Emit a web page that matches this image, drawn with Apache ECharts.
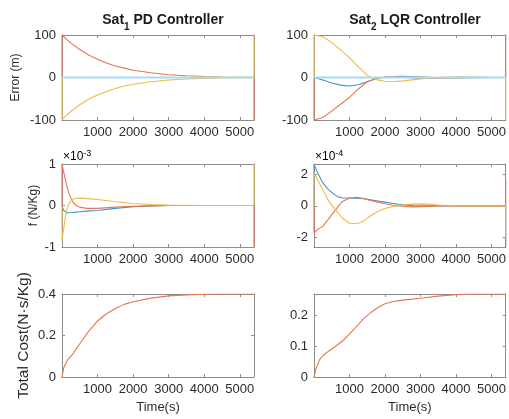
<!DOCTYPE html>
<html>
<head>
<meta charset="utf-8">
<script src="https://cdn.jsdelivr.net/npm/echarts@6/dist/echarts.min.js"></script>
<style>html,body{margin:0;padding:0;background:#fff;}#c{width:509px;height:419px;}</style>
</head>
<body>
<div id="c"></div>
<script>
// ---------- Data ----------
const xTicks = [1000, 2000, 3000, 4000, 5000];
const tMax = 5400;

// Sat1 PD - Error (m)
const pdErrTime   = [0, 0, 100, 250, 500, 750, 1000, 1250, 1500, 1750, 2000, 2500, 3000, 3500, 4000, 4500, 5000, 5400, 5400];
const pdErrOrange = [0, 100, 92, 81, 66, 53, 43, 34, 27, 22, 17, 11, 6.5, 4, 2.3, 1.3, 0.7, 0.4, -100];
const pdErrYellow = [0, -100, -91, -80, -64, -51, -41, -33, -26, -20, -16, -10, -6, -3.5, -2, -1.2, -0.6, -0.3, 100];
const pdErrZeroTime = [0, 5400];
const pdErrZero     = [0, 0];

// Sat2 LQR - Error (m)
const lqrErrTime   = [0, 0, 250, 500, 750, 1000, 1250, 1500, 1750, 2000, 2250, 2500, 2750, 3000, 3250, 3500, 4000, 4500, 5000, 5400, 5400];
const lqrErrYellow = [0, 100, 96, 82, 65, 46, 25, 5, -5, -9, -9.5, -8, -5.5, -3.5, -1.5, 0, 1.5, 1, 0.3, 0, -100];
const lqrErrOrange = [0, -100, -94, -79, -63, -47, -27, -10, -2, 1, 1.5, 1, -0.5, -2, -2, -1.5, -0.5, 0, 0, 0, 100];
const lqrErrBlue   = [0, 0, -6, -13, -18, -20, -17, -10, -3, 1, 2.5, 3, 2.5, 1.5, 0.5, -0.5, -1, -0.3, 0, 0, 0];
const lqrErrZeroTime = [0, 5400];
const lqrErrZero     = [0, 0];

// Sat1 PD - f (N/Kg), x1e-3
const pdFTime   = [0, 0, 50, 100, 150, 200, 300, 400, 500, 700, 1000, 1500, 2000, 2500, 3000, 4000, 5400, 5400];
const pdFBlue   = [0, 0, -0.12, -0.16, -0.175, -0.18, -0.17, -0.16, -0.15, -0.135, -0.12, -0.07, -0.03, -0.01, 0, 0, 0, 0];
const pdFOrange = [0, 1, 0.8, 0.6, 0.42, 0.28, 0.09, 0.0, -0.04, -0.07, -0.07, -0.04, -0.02, -0.01, 0, 0, 0, -1];
const pdFYellow = [0, -0.85, -0.55, -0.25, -0.05, 0.06, 0.15, 0.175, 0.178, 0.165, 0.145, 0.09, 0.05, 0.025, 0.01, 0, 0, 1];

// Sat2 LQR - f (N/Kg), x1e-4
const lqrFTime   = [0, 0, 100, 250, 400, 500, 650, 800, 1000, 1200, 1400, 1600, 1800, 2000, 2200, 2400, 2600, 2800, 3000, 3200, 3500, 4000, 5400, 5400];
const lqrFBlue   = [0, 2.64, 2.1, 1.45, 1.05, 0.85, 0.6, 0.5, 0.5, 0.48, 0.45, 0.38, 0.31, 0.24, 0.17, 0.1, 0.05, 0.02, 0, 0, 0, 0, 0, -2.65];
const lqrFOrange = [0, -1.7, -1.5, -1.28, -0.85, -0.55, -0.12, 0.28, 0.5, 0.54, 0.47, 0.35, 0.24, 0.14, 0.06, -0.01, -0.05, -0.06, -0.05, -0.03, -0.01, 0, 0, 1.65];
const lqrFYellow = [0, 2.1, 1.65, 1.0, 0.35, 0.05, -0.38, -0.78, -1.1, -1.13, -0.95, -0.62, -0.35, -0.17, -0.05, 0.02, 0.08, 0.11, 0.13, 0.11, 0.06, 0, 0, -2.0];

// Total cost (N·s/Kg)
const pdCostTime = [0, 50, 150, 300, 500, 750, 1000, 1250, 1500, 1750, 2000, 2500, 3000, 3500, 4000, 4500, 5400];
const pdCost     = [0, 0.045, 0.08, 0.11, 0.16, 0.22, 0.27, 0.305, 0.33, 0.35, 0.363, 0.38, 0.391, 0.396, 0.399, 0.4, 0.4];
const lqrCostTime = [0, 50, 150, 250, 400, 550, 700, 850, 1000, 1200, 1400, 1600, 1800, 2000, 2200, 2500, 3000, 3500, 4000, 4500, 5400];
const lqrCost     = [0, 0.025, 0.055, 0.07, 0.083, 0.095, 0.108, 0.122, 0.14, 0.165, 0.19, 0.21, 0.226, 0.238, 0.245, 0.25, 0.256, 0.263, 0.268, 0.27, 0.27];

// Axis ranges / ticks
const errRange = [-100, 100], errTicks = [-100, 0, 100];
const pdFRange = [-1, 1], pdFTicks = [-1, 0, 1];
const lqrFRange = [-2.6, 2.65], lqrFTicks = [-2, 0, 2];
const pdCostRange = [0, 0.4], pdCostTicks = [0, 0.2, 0.4];
const lqrCostRange = [0, 0.27], lqrCostTicks = [0, 0.1, 0.2];

// ---------- Styling ----------
const FONT = "'Liberation Sans', Arial, sans-serif";
const C_BLUE = '#3f95d4', C_ORANGE = '#e3774f', C_YELLOW = '#efba48', C_LIGHT = '#a6dcf0';
const AX = '#8c8c8c', TXT = '#2b2b2b';

const grids = [
  {left: 62, top: 35, width: 192, height: 85},
  {left: 314, top: 35, width: 193, height: 85},
  {left: 62, top: 164, width: 192, height: 83},
  {left: 314, top: 164, width: 193, height: 83},
  {left: 62, top: 294, width: 192, height: 83},
  {left: 314, top: 294, width: 193, height: 83}
];
const yRanges = [errRange, errRange, pdFRange, lqrFRange, pdCostRange, lqrCostRange];
const yTicks = [errTicks, errTicks, pdFTicks, lqrFTicks, pdCostTicks, lqrCostTicks];
const yNames = ['Error (m)', '', 'f (N/Kg)', '', 'Total Cost(N\u00B7s/Kg)', ''];
const yGaps = [40, 0, 22, 0, 30, 0];
const yNameSizes = [12, 12, 12, 12, 15.5, 12];

const plain = v => String(v);

const xAxes = [], yAxes = [];
grids.forEach((g, i) => {
  const base = {
    gridIndex: i, type: 'value', min: 0, max: tMax,
    axisLine: {show: true, onZero: false, lineStyle: {color: AX, width: 1}},
    axisTick: {show: true, inside: true, length: 3, customValues: xTicks, lineStyle: {color: AX}},
    splitLine: {show: false}
  };
  xAxes.push(Object.assign({}, base, {
    position: 'bottom',
    axisLabel: {show: true, customValues: xTicks, formatter: plain, color: TXT, fontFamily: FONT, fontSize: 13, margin: 6},
    name: i >= 4 ? 'Time(s)' : '', nameLocation: 'middle', nameGap: 24,
    nameTextStyle: {color: TXT, fontFamily: FONT, fontSize: 13}
  }));
  xAxes.push(Object.assign({}, base, {position: 'top', axisLabel: {show: false}}));
  const ybase = {
    gridIndex: i, type: 'value', min: yRanges[i][0], max: yRanges[i][1],
    axisLine: {show: true, onZero: false, lineStyle: {color: AX, width: 1}},
    axisTick: {show: true, inside: true, length: 3, customValues: yTicks[i], lineStyle: {color: AX}},
    splitLine: {show: false}
  };
  yAxes.push(Object.assign({}, ybase, {
    position: 'left',
    axisLabel: {show: true, customValues: yTicks[i], formatter: plain, color: TXT, fontFamily: FONT, fontSize: 13, margin: 6},
    name: yNames[i], nameLocation: 'middle', nameGap: yGaps[i], nameRotate: 90,
    nameTextStyle: {color: TXT, fontFamily: FONT, fontSize: yNameSizes[i]}
  }));
  yAxes.push(Object.assign({}, ybase, {position: 'right', axisLabel: {show: false}}));
});

function pairs(t, v) { return t.map((x, k) => [x, v[k]]); }
function line(i, t, v, color, w) {
  return {
    type: 'line', xAxisIndex: 2 * i, yAxisIndex: 2 * i, data: pairs(t, v),
    showSymbol: false, symbol: 'none', clip: true, animation: false,
    lineStyle: {color: color, width: w || 1.1}, itemStyle: {color: color}
  };
}

const series = [
  line(0, pdErrTime, pdErrOrange, C_ORANGE),
  line(0, pdErrTime, pdErrYellow, C_YELLOW),
  line(0, pdErrZeroTime, pdErrZero, C_LIGHT, 2),
  line(1, lqrErrTime, lqrErrBlue, C_BLUE),
  line(1, lqrErrTime, lqrErrOrange, C_ORANGE),
  line(1, lqrErrTime, lqrErrYellow, C_YELLOW),
  line(1, lqrErrZeroTime, lqrErrZero, C_LIGHT, 2),
  line(2, pdFTime, pdFBlue, C_BLUE),
  line(2, pdFTime, pdFOrange, C_ORANGE),
  line(2, pdFTime, pdFYellow, C_YELLOW),
  line(3, lqrFTime, lqrFBlue, C_BLUE),
  line(3, lqrFTime, lqrFOrange, C_ORANGE),
  line(3, lqrFTime, lqrFYellow, C_YELLOW),
  line(4, pdCostTime, pdCost, C_ORANGE),
  line(5, lqrCostTime, lqrCost, C_ORANGE)
];

const titleRich = {
  b: {fontFamily: FONT, fontSize: 14, fontWeight: 'bold', color: '#1a1a1a'},
  s: {fontFamily: FONT, fontSize: 10, fontWeight: 'bold', color: '#1a1a1a', verticalAlign: 'bottom', padding: [0, 0, -5, 0]}
};
const expRich = {
  m: {fontFamily: FONT, fontSize: 12, color: TXT},
  e: {fontFamily: FONT, fontSize: 9, color: TXT, padding: [0, 0, 7, 0]}
};

const option = {
  backgroundColor: '#ffffff',
  animation: false,
  title: [
    {text: '{b|Sat}{s|1}{b| PD Controller}', left: 158, top: 8, textAlign: 'center', textStyle: {rich: titleRich}},
    {text: '{b|Sat}{s|2}{b| LQR Controller}', left: 410, top: 8, textAlign: 'center', textStyle: {rich: titleRich}}
  ],
  grid: grids,
  xAxis: xAxes,
  yAxis: yAxes,
  series: series,
  graphic: [
    {type: 'text', left: 63, top: 149, style: {text: '{m|\u00D710}{e|-3}', rich: expRich}},
    {type: 'text', left: 315, top: 149, style: {text: '{m|\u00D710}{e|-4}', rich: expRich}}
  ]
};

const chart = echarts.init(document.getElementById('c'), null, {renderer: 'canvas'});
chart.setOption(option);
</script>
</body>
</html>
